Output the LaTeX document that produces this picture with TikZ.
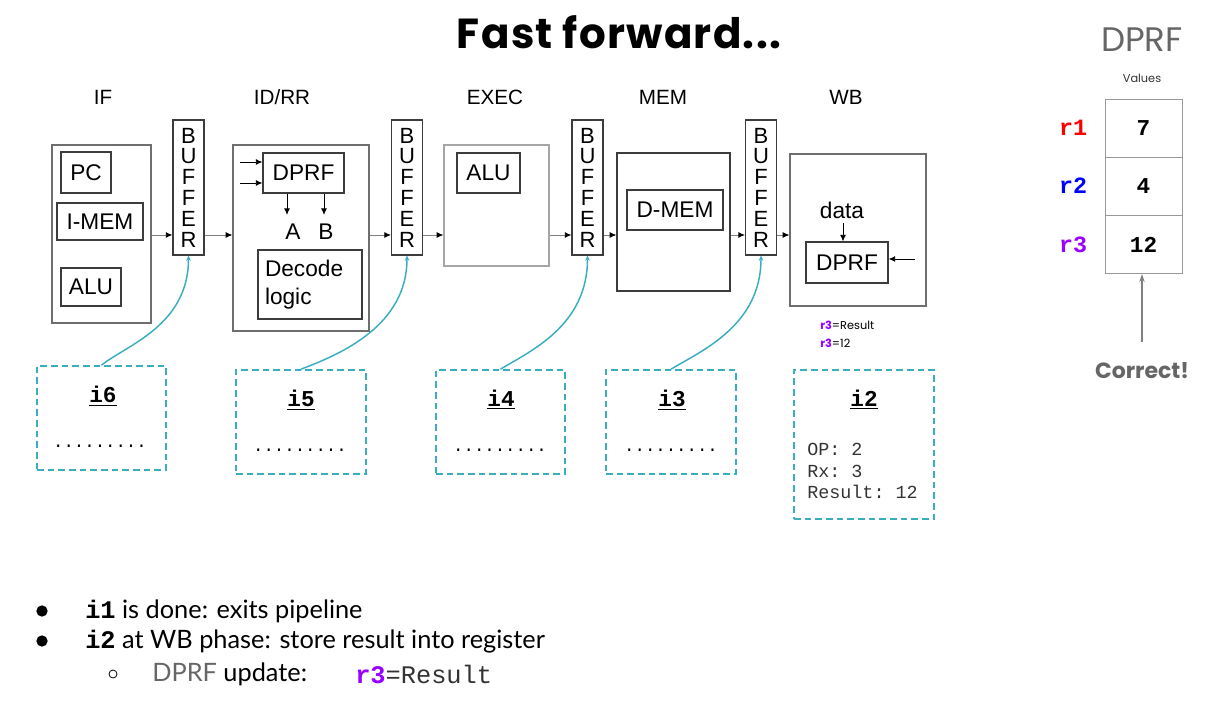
\documentclass[tikz,border=0pt]{standalone}
\usepackage{fontspec}
\setmainfont{Liberation Sans}
\setmonofont{Liberation Mono}
\newfontfamily\pop{Poppins}
\newfontfamily\poptitle{Poppins}[LetterSpace=3]
\newfontfamily\lato{Lato}
\usetikzlibrary{arrows.meta}
\definecolor{tealc}{RGB}{58,174,190}
\definecolor{purp}{RGB}{153,0,255}
\definecolor{gtxt}{RGB}{102,102,102}
\definecolor{boxl}{RGB}{110,110,110}
\definecolor{innl}{RGB}{60,60,60}
\begin{document}
\begin{tikzpicture}[x=0.75pt,y=-0.75pt,
  sz/.style 2 args={minimum width=#1*0.75pt, minimum height=#2*0.75pt},
  outer/.style={draw=boxl, line width=0.9pt, inner sep=0pt},
  inner/.style={draw=innl, line width=0.8pt, inner sep=0pt, font=\fontsize{17}{20}\selectfont},
  buf/.style={draw=innl, line width=0.8pt, inner sep=0pt, sz={31}{135}, align=center,
     font=\fontsize{16.5}{15.6}\selectfont},
  stagelbl/.style={font=\fontsize{15.5}{18}\selectfont},
  flow/.style={draw=gray, line width=0.7pt, -{Latex[length=5pt,width=4.5pt,color=black]}},
  iarr/.style={draw=black, line width=0.7pt, -{Latex[length=5pt,width=4.5pt]}},
  ibox/.style={draw=tealc, line width=1.3pt, dash pattern=on 5pt off 3pt, inner sep=0pt},
  ilbl/.style={font=\ttfamily\bfseries\fontsize{17}{20}\selectfont},
  dots/.style={font=\ttfamily\fontsize{13}{15}\selectfont},
  link/.style={draw=tealc, line width=1.1pt, -{Stealth[length=4pt,width=3.5pt]}},
  cell/.style={draw=gray!80, line width=0.7pt, sz={77}{58}, font=\ttfamily\bfseries\fontsize{17}{20}\selectfont},
  reg/.style={font=\ttfamily\bfseries\fontsize{17.5}{20}\selectfont},
  btxt/.style={anchor=west, font=\lato\fontsize{19}{22}\selectfont, inner sep=0pt},
  bdot/.style={circle, fill=black, inner sep=0pt, minimum size=8.5pt}
]
\useasboundingbox (0,0) rectangle (1230,716);

% title
\node[font=\poptitle\bfseries\fontsize{31.5}{36}\selectfont] (title) at (619,32) {Fast forward...};

% stage labels
\node[stagelbl] (lif) at (103,97) {IF};
\node[stagelbl] (lid) at (282,97) {ID/RR};
\node[stagelbl] (lex) at (495,97) {EXEC};
\node[stagelbl] (lmem) at (663,97) {MEM};
\node[stagelbl] (lwb) at (846,97) {WB};

% IF
\node[outer, sz={99}{178}] (ifbox) at (101.5,234) {};
\node[inner, sz={50}{41}] (pc) at (86,172.5) {PC};
\node[inner, sz={86}{37}] (imem) at (100,221.5) {I-MEM};
\node[inner, sz={60}{38}] (alu1) at (91,287) {ALU};

% buffers
\node[buf] (buf1) at (188.5,187.5) {B\\U\\F\\F\\E\\R};
\node[buf] (buf2) at (407,187.5) {B\\U\\F\\F\\E\\R};
\node[buf] (buf3) at (587.5,187.5) {B\\U\\F\\F\\E\\R};
\node[buf] (buf4) at (761,187.5) {B\\U\\F\\F\\E\\R};

% ID/RR
\node[outer, sz={136}{186}] (idrr) at (301,238) {};
\node[inner, sz={81}{40}] (dprf1) at (303.5,173) {DPRF};
\coordinate (in1) at (240,162);
\coordinate (in2) at (240,183);
\draw[iarr] (in1) -- (in1 -| dprf1.west);
\draw[iarr] (in2) -- (in2 -| dprf1.west);
\node[font=\fontsize{17}{20}\selectfont] (la) at (293,232) {A};
\node[font=\fontsize{17}{20}\selectfont] (lb) at (326,232) {B};
\draw[iarr] (dprf1.south -| 287,0) -- (287,215);
\draw[iarr] (dprf1.south -| 324,0) -- (324,215);
\node[inner, sz={104}{69}, align=left, text width=90*0.75pt, font=\fontsize{17}{21}\selectfont] (dec) at (310,284.5) {Decode\\logic};

% EXEC
\node[outer, sz={105}{121}, draw=gray!70] (exec) at (496.5,205.5) {};
\node[inner, sz={63}{40}] (alu2) at (488.5,173) {ALU};

% MEM
\node[outer, sz={113}{138}, draw=innl] (mem) at (673.5,222) {};
\node[inner, sz={96}{40}] (dmem) at (675,210) {D-MEM};

% WB
\node[outer, sz={136}{152}] (wb) at (858,230) {};
\node[font=\fontsize{17}{20}\selectfont] (data) at (842,210) {data};
\node[inner, sz={82}{41}] (dprf2) at (847,262.5) {DPRF};
\draw[iarr] (data.south -| 843,0) -- (dprf2.north -| 843,0);
\coordinate (wbin) at (915,259);
\draw[iarr] (wbin) -- (wbin -| dprf2.east);
\node[anchor=west, inner sep=0pt, font=\pop\fontsize{8.5}{10}\selectfont] (n1) at (820,325) {\textcolor{purp}{\bfseries r3}=Result};
\node[anchor=west, inner sep=0pt, font=\pop\fontsize{8.5}{10}\selectfont] (n2) at (820,343) {\textcolor{purp}{\bfseries r3}=12};

% flow arrows
\draw[flow] (ifbox.east |- 0,235) -- (buf1.west |- 0,235);
\draw[flow] (buf1.east |- 0,235) -- (idrr.west |- 0,235);
\draw[flow] (idrr.east |- 0,235) -- (buf2.west |- 0,235);
\draw[flow] (buf2.east |- 0,235) -- (exec.west |- 0,235);
\draw[flow] (exec.east |- 0,235) -- (buf3.west |- 0,235);
\draw[flow] (buf3.east |- 0,235) -- (mem.west |- 0,235);
\draw[flow] (mem.east |- 0,235) -- (buf4.west |- 0,235);
\draw[flow] (buf4.east |- 0,235) -- (wb.west |- 0,235);

% instruction boxes
\node[ibox, sz={129}{104}] (i6) at (101.5,418) {};
\node[ibox, sz={130}{104}] (i5) at (301,422) {};
\node[ibox, sz={129}{104}] (i4) at (500.5,422) {};
\node[ibox, sz={130}{104}] (i3) at (671,422) {};
\node[ibox, sz={140}{149}] (i2) at (864,444.5) {};

\node[ilbl] (t6) at (103,396) {\underline{i6}};
\node[ilbl] (t5) at (301,400) {\underline{i5}};
\node[ilbl] (t4) at (501,400) {\underline{i4}};
\node[ilbl] (t3) at (672,400) {\underline{i3}};
\node[ilbl] (t2) at (864,400) {\underline{i2}};

\node[dots] (d6) at (100,446) {.........};
\node[dots] (d5) at (300,450) {.........};
\node[dots] (d4) at (500,450) {.........};
\node[dots] (d3) at (671,450) {.........};

\node[anchor=north west, align=left, inner sep=0pt, text=gray!40!black,
      font=\ttfamily\fontsize{13.8}{16.2}\selectfont] (i2txt) at (807,443) {OP: 2\\Rx: 3\\Result: 12};

% teal links
\draw[link] (i6.north) .. controls +(25,-20) and +(0,70) .. (buf1.south);
\draw[link] (i5.north) .. controls +(40,-15) and +(0,70) .. (buf2.south);
\draw[link] (i4.north) .. controls +(30,-18) and +(0,70) .. (buf3.south);
\draw[link] (i3.north) .. controls +(30,-18) and +(0,70) .. (buf4.south);

% right panel
\node[text=gtxt, font=\pop\fontsize{25.5}{30}\selectfont] (rtitle) at (1142,40) {DPRF};
\node[text=gray!40!black, font=\pop\fontsize{8.5}{10}\selectfont] (vals) at (1142,78) {Values};
\node[cell] (c1) at (1143.5,128) {7};
\node[cell] (c2) at (1143.5,186) {4};
\node[cell] (c3) at (1143.5,244.5) {12};
\node[reg, text=red] (r1) at (1073,128) {r1};
\node[reg, text=blue] (r2) at (1073,186) {r2};
\node[reg, text=purp] (r3) at (1073,244.5) {r3};
\coordinate (cor) at (1142,342);
\draw[draw=gray, line width=0.9pt, -{Stealth[length=6pt,width=4pt]}] (cor) -- (c3.south -| cor);
\node[text=gtxt, font=\pop\bfseries\fontsize{16.5}{19}\selectfont] (correct) at (1142,371) {Correct!};

% bullets
\node[bdot] (b1) at (42,611) {};
\node[bdot] (b2) at (42,641) {};
\node[circle, draw=black, line width=0.6pt, inner sep=0pt, minimum size=6pt] (b3) at (113,674) {};
\node[btxt] (l1) at (85,611) {{\ttfamily\bfseries i1} is done: exits pipeline};
\node[btxt] (l2) at (85,641) {{\ttfamily\bfseries i2} at WB phase: store result into register};
\node[btxt] (l3) at (152,674) {\textcolor{gtxt}{DPRF} update:};
\node[anchor=west, inner sep=0pt, font=\ttfamily\fontsize{19}{22}\selectfont, text=gray!40!black] (l4) at (355,674) {\textcolor{purp}{\bfseries r3}=Result};
\end{tikzpicture}
\end{document}
